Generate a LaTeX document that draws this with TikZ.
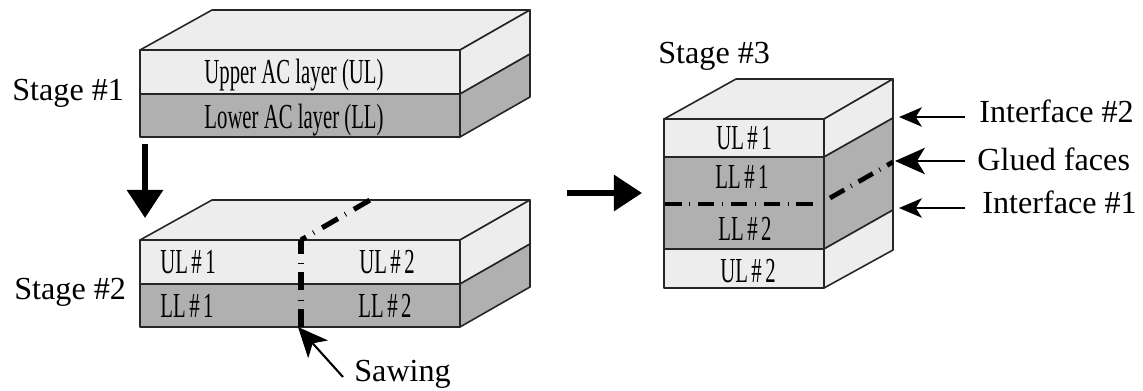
\documentclass[tikz,border=0pt]{standalone}
\usepackage{fontspec}
\setmainfont{Liberation Serif}
\newfontfamily\narrowfont[FakeStretch=0.59]{Liberation Serif}
\newcommand{\partfont}{\narrowfont\fontsize{20}{22}\selectfont\spaceskip 2pt\relax}
\usetikzlibrary{arrows.meta}
\definecolor{lightlayer}{HTML}{EDEDED}
\definecolor{darklayer}{HTML}{B0B0B0}
\tikzstyle{light face}=[draw=black!85, fill=lightlayer, line width=0.9pt, line join=round]
\tikzstyle{dark face}=[draw=black!85, fill=darklayer, line width=0.9pt, line join=round]
\tikzstyle{label}=[font=\fontsize{18.3}{20}\selectfont, inner sep=0, anchor=base west]
\tikzstyle{layer label}=[font=\narrowfont\fontsize{20}{22}\selectfont, inner sep=0, anchor=base]
\tikzstyle{part label}=[font=\partfont, inner sep=0, anchor=base]
\tikzstyle{saw cut}=[line width=2.9pt, dash pattern=on 10.4pt off 4.7pt on 0.5pt off 5.3pt]
\tikzstyle{glue cut}=[line width=2.7pt, dash pattern=on 9.4pt off 4.3pt on 0.5pt off 4.5pt]
\tikzstyle{pointer}=[line width=1.2pt, -{Stealth[length=13pt, width=11pt, inset=3.5pt]}]
\tikzstyle{big pointer}=[line width=1.2pt, -{Stealth[length=17pt, width=15pt, inset=4.5pt]}]
\tikzstyle{flow}=[line width=3.4pt, -{Triangle[length=16pt, width=20pt]}]

\begin{document}
\begin{tikzpicture}[x=0.02cm, y=-0.02cm]
      \useasboundingbox (0, 0) rectangle (1143, 390);

      % stage 1
      \draw[light face] (140, 50) -- (212, 10) -- (530, 10) -- (460, 50) -- cycle;
      \draw[light face] (140, 50) rectangle (460, 94);
      \draw[light face] (460, 50) -- (530, 10) -- (530, 54) -- (460, 94) -- cycle;
      \draw[dark face] (140, 94) rectangle (460, 137);
      \draw[dark face] (460, 94) -- (530, 54) -- (530, 97) -- (460, 137) -- cycle;
      \node[layer label] (upper) at (294, 83) {Upper AC layer (UL)};
      \node[layer label] (lower) at (294, 128) {Lower AC layer (LL)};
      \node[label] (stage1) at (12, 100) {Stage \#1};

      % stage 2
      \draw[light face] (140, 240) -- (212, 200) -- (530, 200) -- (460, 240) -- cycle;
      \draw[light face] (140, 240) rectangle (460, 284);
      \draw[light face] (460, 240) -- (530, 200) -- (530, 244) -- (460, 284) -- cycle;
      \draw[dark face] (140, 284) rectangle (460, 327);
      \draw[dark face] (460, 284) -- (530, 244) -- (530, 287) -- (460, 327) -- cycle;
      \node[part label] (ul1) at (188, 273) {UL \# 1};
      \node[part label] (ul2) at (387, 273) {UL \# 2};
      \node[part label] (ll1) at (187, 317) {LL \# 1};
      \node[part label] (ll2) at (385, 317) {LL \# 2};
      \node[label] (stage2) at (14, 299) {Stage \#2};

      \coordinate (saw_bottom) at (301, 327);
      \coordinate (saw_top) at (301, 240);
      \coordinate (saw_back) at (370, 200);
      \draw[saw cut] (saw_bottom) to (saw_top);
      \draw[saw cut, dash phase=7pt] (saw_top) to (saw_back);

      \node[label] (sawing) at (354, 381) {Sawing};
      \coordinate (sawing_tail) at (343, 377);
      \coordinate (sawing_tip) at (298, 327);
      \draw[big pointer] (sawing_tail) to (sawing_tip);

      % stage 3
      \draw[light face] (664, 119) -- (736, 79) -- (893, 79) -- (824, 119) -- cycle;
      \draw[light face] (664, 119) rectangle (824, 157);
      \draw[light face] (824, 119) -- (893, 79) -- (893, 118) -- (824, 157) -- cycle;
      \draw[dark face] (664, 157) rectangle (824, 249);
      \draw[dark face] (824, 157) -- (893, 118) -- (893, 210) -- (824, 249) -- cycle;
      \draw[light face] (664, 249) rectangle (824, 288);
      \draw[light face] (824, 249) -- (893, 210) -- (893, 250) -- (824, 288) -- cycle;
      \node[part label] (ul1_top) at (744, 149) {UL \# 1};
      \node[part label] (ll1_mid) at (742, 188) {LL \# 1};
      \node[part label] (ll2_mid) at (745, 240) {LL \# 2};
      \node[part label] (ul2_bot) at (748, 282) {UL \# 2};
      \node[label] (stage3) at (658, 63) {Stage \#3};

      \coordinate (glue_left) at (665, 204);
      \coordinate (glue_mid) at (816, 204);
      \coordinate (glue_side) at (830, 198);
      \coordinate (glue_back) at (893, 162);
      \draw[glue cut] (glue_left) to (glue_mid);
      \draw[glue cut] (glue_side) to (glue_back);

      % side labels
      \node[label] (interface2) at (979, 122) {Interface \#2};
      \node[label] (glued) at (977, 170) {Glued faces};
      \node[label] (interface1) at (982, 213) {Interface \#1};
      \coordinate (interface2_tail) at (965, 117);
      \coordinate (glued_tail) at (965, 161);
      \coordinate (interface1_tail) at (965, 208);
      \coordinate (interface2_tip) at (899, 117);
      \coordinate (glued_tip) at (895, 161);
      \coordinate (interface1_tip) at (899, 208);
      \draw[pointer] (interface2_tail) to (interface2_tip);
      \draw[big pointer] (glued_tail) to (glued_tip);
      \draw[pointer] (interface1_tail) to (interface1_tip);

      % big arrows
      \coordinate (down_tail) at (145, 144);
      \coordinate (down_tip) at (145, 218);
      \coordinate (right_tail) at (567, 193);
      \coordinate (right_tip) at (642, 193);
      \draw[flow] (down_tail) to (down_tip);
      \draw[flow] (right_tail) to (right_tip);
    \end{tikzpicture}
\end{document}
